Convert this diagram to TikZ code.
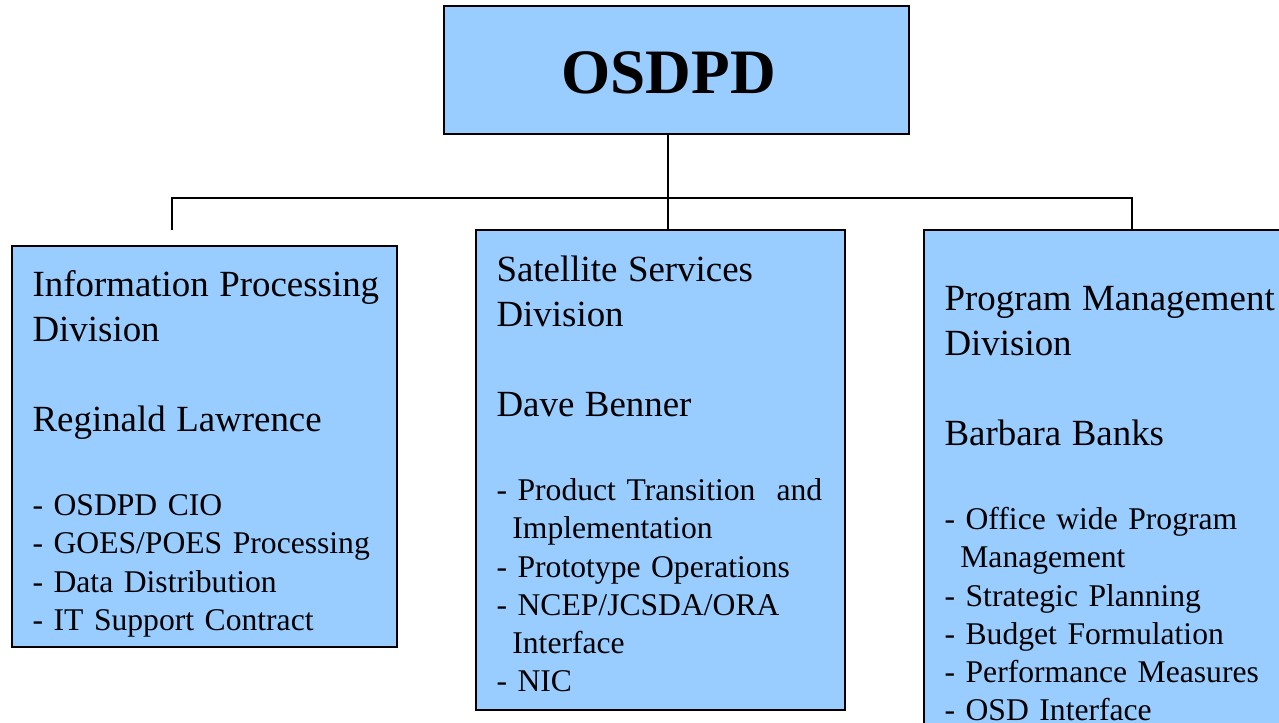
\documentclass[tikz,border=0pt]{standalone}
\usepackage{fontspec}
\setmainfont{Liberation Serif}
\usetikzlibrary{fit}

\definecolor{divblue}{RGB}{153,204,255}
\newcommand{\divtitle}{\fontsize{21}{25.6}\selectfont}

\tikzset{
  divbox/.style={draw=black, fill=divblue, line width=0.9pt, inner sep=0pt},
  divtext/.style={anchor=north west, inner sep=0pt, text width=16cm, align=left,
    font=\fontsize{18}{21.8}\selectfont},
  orgline/.style={draw=black, line width=0.85pt}
}

\begin{document}
\begin{tikzpicture}[x=0.02cm, y=-0.02cm]
  \path[use as bounding box, clip] (0,0) rectangle (1279,723);

  % top box
  \node[divbox, fit={(444,6) (909,134)}] (osdpd) {};
  \node[anchor=base, inner sep=0pt, font=\bfseries\fontsize{36}{40}\selectfont] (osdpdlabel) at (668.5,94) {OSDPD};

  % division boxes
  \node[divbox, fit={(12,246) (397,647)}] (ipd) {};
  \node[divbox, fit={(476,230) (845,710)}] (ssd) {};
  \node[divbox, fit={(924,230) (1320,760)}] (pmd) {};

  \node[divtext] (ipdtext) at ([shift={(21,23)}]ipd.north west) {%
    {\divtitle\rule{0pt}{16pt}Information Processing\\
    Division\\[29.3pt]
    Reginald Lawrence}\\[26pt]
    - OSDPD CIO\\
    - GOES/POES Processing\\
    - Data Distribution\\
    - IT Support Contract};

  \node[divtext] (ssdtext) at ([shift={(21,24)}]ssd.north west) {%
    {\divtitle\rule{0pt}{16pt}Satellite Services\\
    Division\\[29.3pt]
    Dave Benner}\\[26pt]
    - Product Transition~ and\\
    \hspace*{9pt}Implementation\\
    - Prototype Operations\\
    - NCEP/JCSDA/ORA\\
    \hspace*{9pt}Interface\\
    - NIC};

  \node[divtext] (pmdtext) at ([shift={(21,53)}]pmd.north west) {%
    {\divtitle\rule{0pt}{16pt}Program Management\\
    Division\\[29.3pt]
    Barbara Banks}\\[26pt]
    - Office wide Program\\
    \hspace*{9pt}Management\\
    - Strategic Planning\\
    - Budget Formulation\\
    - Performance Measures\\
    - OSD Interface};

  % connectors
  \coordinate (trunk) at (668,198);
  \coordinate (ipdend) at (172,230);
  \coordinate (pmdtap) at (1132,198);
  \draw[orgline] (osdpd.south -| trunk) -- (trunk |- ssd.north);
  \draw[orgline] (ipdend) |- (pmdtap) -- (pmdtap |- pmd.north);
\end{tikzpicture}
\end{document}
